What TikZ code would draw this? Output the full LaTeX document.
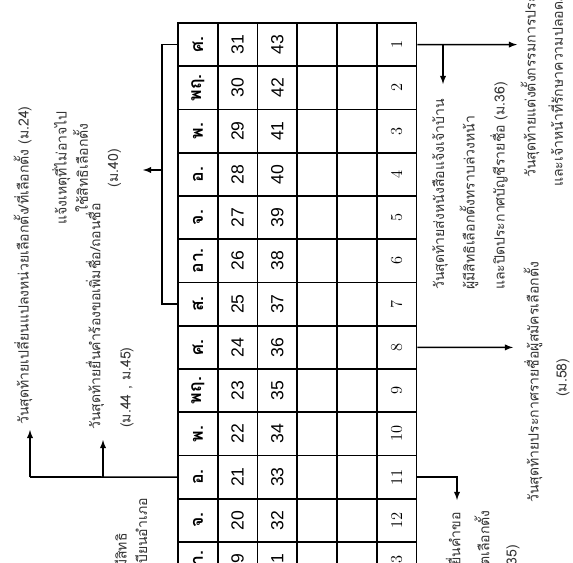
\documentclass[tikz,border=0pt]{standalone}
\usepackage{fontspec}
\usepackage{graphicx}
\newfontfamily\thaifont[Script=Thai]{Loma}
\newfontfamily\numfont{Liberation Sans}
\usetikzlibrary{arrows}
\tikzstyle{cellbox}=[rectangle, inner sep=0pt, minimum width=1.1925cm, minimum height=1.2975cm, draw, line width=1.4pt]
\tikzstyle{daytext}=[font=\thaifont\bfseries\fontsize{15}{15}\selectfont]
\tikzstyle{numtext}=[font=\numfont\fontsize{15}{15}\selectfont]
\tikzstyle{handtext}=[font=\fontsize{14}{14}\selectfont]
\tikzstyle{notetext}=[font=\thaifont\fontsize{12}{18}\selectfont, rotate=90, inner sep=0pt, text=black!80]
\tikzstyle{conn}=[line width=1.4pt]
\tikzset{>=latex}

\begin{document}
\begin{tikzpicture}[x=0.03cm, y=-0.03cm]
\useasboundingbox (0,0) rectangle (573,562);

% the table, one row for each day
\foreach \d/\a/\b/\c [count=\i from 0] in {ศ./31/43/1, พฤ./30/42/2, พ./29/41/3, อ./28/40/4, จ./27/39/5, อา./26/38/6, ส./25/37/7, ศ./24/36/8, พฤ./23/35/9, พ./22/34/10, อ./21/33/11, จ./20/32/12, อา./19/31/13}
{
	\node[cellbox, daytext] (wd-\i) at (197.9, {23+43.25*(\i+0.5)}) {\rotatebox{90}{\d}};
	\node[cellbox, numtext] (p-\i) at (237.6, {23+43.25*(\i+0.5)}) {\rotatebox{90}{\a}};
	\node[cellbox, numtext] (q-\i) at (277.4, {23+43.25*(\i+0.5)}) {\rotatebox{90}{\b}};
	\node[cellbox] (e-\i) at (317.1, {23+43.25*(\i+0.5)}) {};
	\node[cellbox] (f-\i) at (356.9, {23+43.25*(\i+0.5)}) {};
	\node[cellbox, handtext] (k-\i) at (396.6, {23+43.25*(\i+0.5)}) {\rotatebox{90}{\c}};
}

% left side
\node[notetext, anchor=west] (n24) at (23, 425) {วันสุดท้ายเปลี่ยนแปลงหน่วยเลือกตั้ง/ที่เลือกตั้ง (ม.24)};
\node[notetext, anchor=west] (n44) at (95, 430) {วันสุดท้ายยื่นคำร้องขอเพิ่มชื่อ/ถอนชื่อ};
\node[notetext, anchor=west] (n44b) at (127, 428) {(ม.44 , ม.45)};
\node[notetext, align=center, anchor=north] (n40) at (52, 168) {แจ้งเหตุที่ไม่อาจไป\\ใช้สิทธิเลือกตั้ง\\[8pt](ม.40)};
\node[notetext, anchor=east] (nbl) at (121, 533) {ผู้มีสิทธิเลือกตั้งมีสิทธิ};
\node[notetext, anchor=east] (nbl2) at (140, 498) {ยื่นคำร้องต่อนายทะเบียนอำเภอ};

\coordinate (t24) at (30, 430);
\coordinate (t44) at (103, 440);
\coordinate (t40) at (143, 170);
\draw[conn] (wd-10.west) -- (30, 477);
\draw[conn, ->] (30, 477) -- (t24);
\draw[conn, ->] (103, 477) -- (t44);
\draw[conn] (wd-0.west) -- ++(-15, 0) |- (wd-6.west);
\draw[conn, ->] (163, 170) -- (t40);

% right side
\node[notetext, anchor=west] (n56a) at (530, 178) {วันสุดท้ายแต่งตั้งกรรมการประจำหน่วยเลือกตั้ง};
\node[notetext, anchor=west] (n56b) at (557, 187) {และเจ้าหน้าที่รักษาความปลอดภัย (ม.56)};
\node[notetext, anchor=west] (n36a) at (440, 290) {วันสุดท้ายส่งหนังสือแจ้งเจ้าบ้าน};
\node[notetext, anchor=west] (n36b) at (469, 290) {ผู้มีสิทธิเลือกตั้งทราบล่วงหน้า};
\node[notetext, anchor=west] (n36c) at (499, 290) {และปิดประกาศบัญชีรายชื่อ (ม.36)};
\node[notetext, anchor=west] (n58a) at (533, 503) {วันสุดท้ายประกาศรายชื่อผู้สมัครเลือกตั้ง};
\node[notetext, anchor=west] (n58b) at (563, 397) {(ม.58)};
\node[notetext, anchor=east] (n35a) at (455, 512) {วันสุดท้ายยื่นคำขอ};
\node[notetext, anchor=east] (n35b) at (482, 510) {ลงคะแนนนอกเขตเลือกตั้ง};
\node[notetext, anchor=east] (n35c) at (513, 545) {(ม.35)};

\coordinate (t56) at (517, 44.6);
\coordinate (t36) at (443, 84);
\coordinate (t58) at (513, 347.4);
\coordinate (t35) at (457, 500);
\draw[conn, ->] (k-0.east) -- (t56);
\draw[conn, ->] (443, 44.6) -- (t36);
\draw[conn, ->] (k-7.east) -- (t58);
\draw[conn, ->] (k-10.east) -| (t35);

\end{tikzpicture}
\end{document}
